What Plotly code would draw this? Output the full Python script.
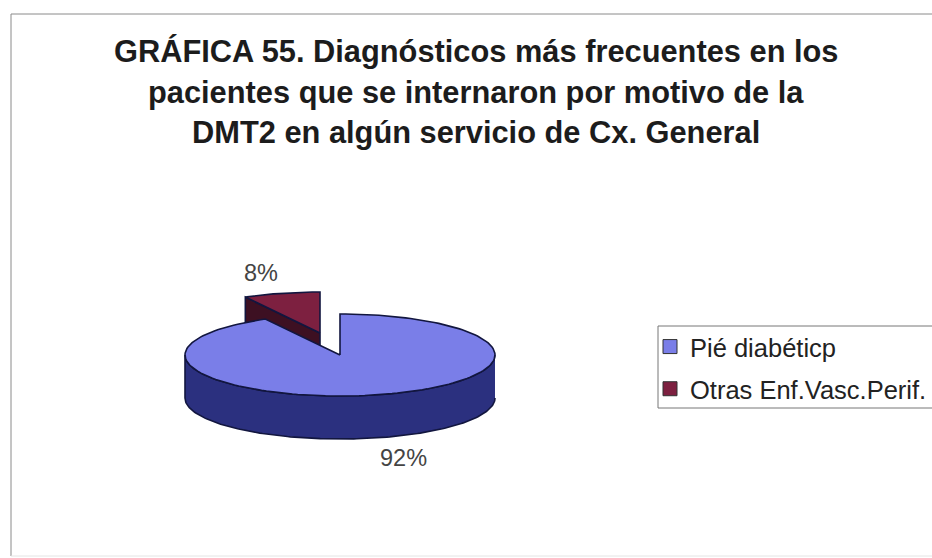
import numpy as np
import plotly.graph_objects as go

# ===================== Data =====================
labels = ["Pié diabéticp", "Otras Enf.Vasc.Perif."]
values = [92, 8]
title_lines = [
    "GRÁFICA 55. Diagnósticos más frecuentes en los",
    "pacientes que se internaron por motivo de la",
    "DMT2 en algún servicio de Cx. General",
]

# ===================== Pie geometry (page pixels) =====================
CX, CY = 340, 355
RX, RY = 155, 41
DEPTH = 43
EXPLODE = (-20, -22)

top_colors = ["#7a7ee8", "#7d2040"]
side_colors = ["#2b307f", "#3d1022"]
edge = "#12163f"


def arc(a0, a1, cx=CX, cy=CY, n=160):
    # angles in degrees, clockwise from straight up
    t = np.radians(np.linspace(a0, a1, n))
    return cx + RX * np.sin(t), cy - RY * np.cos(t)


def poly(x, y, color, line=edge, width=1.6):
    return go.Scatter(x=x, y=y, mode="lines", fill="toself", fillcolor=color,
                      line=dict(color=line, width=width), hoverinfo="skip",
                      showlegend=False)


split = values[0] / sum(values) * 360
fig = go.Figure()

# -------- Exploded slice --------
ox, oy = CX + EXPLODE[0], CY + EXPLODE[1]
ex, ey = arc(split, 360, ox, oy)
# cut face seen below the slice
fig.add_trace(poly([ox, ex[0], ex[0], ox, ox], [oy, ey[0], ey[0] + DEPTH, oy + DEPTH, oy],
                   side_colors[1]))
fig.add_trace(poly(np.r_[ox, ex, ox], np.r_[oy, ey, oy], top_colors[1]))

# -------- Main slice --------
fx, fy = arc(90, 270)
fig.add_trace(poly(np.r_[fx, fx[::-1]], np.r_[fy, fy[::-1] + DEPTH], side_colors[0]))
mx, my = arc(0, split)
fig.add_trace(poly(np.r_[CX, mx, CX], np.r_[CY, my, CY], top_colors[0]))

# -------- Legend entries --------
for name, color in zip(labels, top_colors):
    fig.add_trace(go.Scatter(x=[None], y=[None], mode="markers", name=name, legendgroup=name,
                             marker=dict(symbol="square", size=14, color=color,
                                         line=dict(color="#333333", width=1))))

# ===================== Text =====================
font = "Liberation Sans, Arial, sans-serif"
for line, y in zip(title_lines, [51, 92, 132]):
    fig.add_annotation(x=476, y=y, text=f"<b>{line}</b>", showarrow=False,
                       font=dict(family=font, size=30.8, color="#1c1c1c"))

fig.add_annotation(x=403, y=458, text=f"{values[0]}%", showarrow=False,
                   font=dict(family=font, size=23.5, color="#444444"))
fig.add_annotation(x=261, y=273, text=f"{values[1]}%", showarrow=False,
                   font=dict(family=font, size=23.5, color="#444444"))

# ===================== Layout =====================
fig.update_layout(
    width=932, height=558,
    margin=dict(l=0, r=0, t=0, b=0),
    paper_bgcolor="white", plot_bgcolor="white",
    xaxis=dict(range=[0, 932], visible=False, fixedrange=True),
    yaxis=dict(range=[558, 0], visible=False, fixedrange=True),
    legend=dict(x=650 / 932, y=1 - 323.5 / 558, xanchor="left", yanchor="top",
                font=dict(family=font, size=25.5, color="#222222"),
                bgcolor="rgba(0,0,0,0)", tracegroupgap=6),
    shapes=[
        dict(type="line", x0=11, y0=14, x1=932, y1=14, line=dict(color="#8a8a8a", width=1)),
        dict(type="line", x0=11, y0=14, x1=11, y1=556, line=dict(color="#8a8a8a", width=1)),
        dict(type="line", x0=11, y0=556, x1=932, y1=556, line=dict(color="#e4e4e4", width=1)),
        dict(type="rect", x0=658, y0=326, x1=945, y1=408, line=dict(color="#777777", width=1)),
    ],
)

fig.write_html("out.html", config={"displayModeBar": False},
               post_script="document.body.style.margin='0';")
